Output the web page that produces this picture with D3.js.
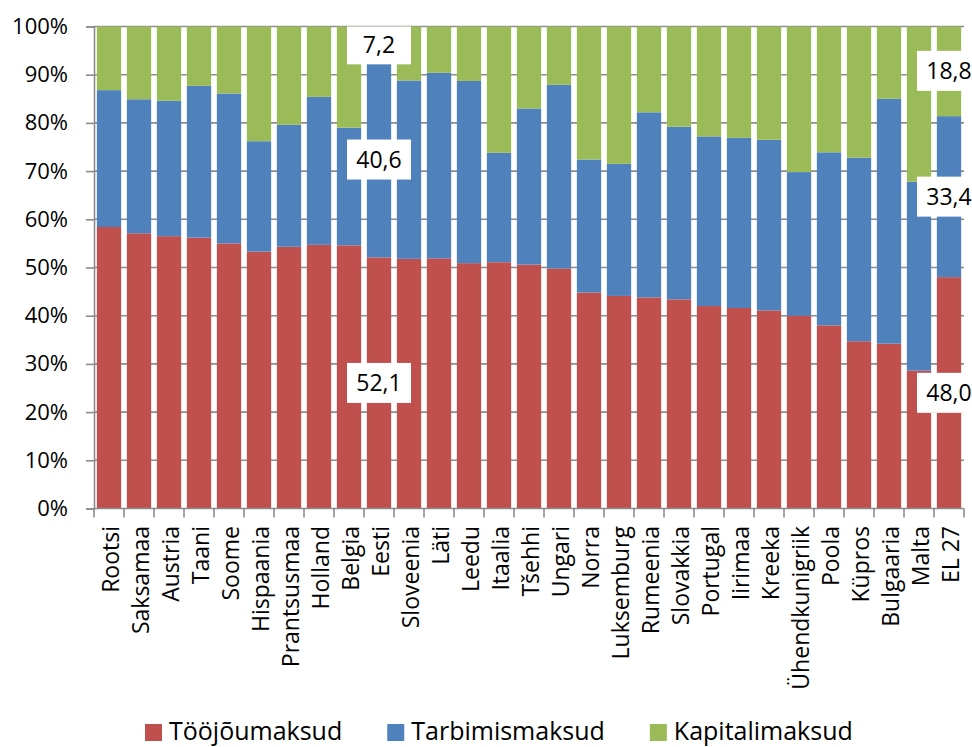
<!DOCTYPE html>
<html>
<head>
<meta charset="utf-8">
<script src="https://cdn.jsdelivr.net/npm/d3@7"></script>
<style>
  body { margin: 0; background: #fff; }
  svg { display: block; font-family: "Open Sans", sans-serif; }
</style>
</head>
<body>
<svg id="chart" width="972" height="747"></svg>
<script>
var countries = ['Rootsi', 'Saksamaa', 'Austria', 'Taani', 'Soome', 'Hispaania', 'Prantsusmaa',
  'Holland', 'Belgia', 'Eesti', 'Sloveenia', 'Läti', 'Leedu', 'Itaalia', 'Tšehhi', 'Ungari',
  'Norra', 'Luksemburg', 'Rumeenia', 'Slovakkia', 'Portugal', 'Iirimaa', 'Kreeka',
  'Ühendkunigriik', 'Poola', 'Küpros', 'Bulgaaria', 'Malta', 'EL 27'];

var labour = [58.4, 57.1, 56.5, 56.2, 55.0, 53.3, 54.3, 54.7, 54.6, 52.1, 51.8, 51.9, 50.9, 51.1,
  50.6, 49.8, 44.8, 44.1, 43.8, 43.4, 42.0, 41.6, 41.1, 40.0, 38.0, 34.7, 34.2, 28.6, 48.0];
var consumption = [28.4, 27.8, 28.1, 31.5, 31.1, 22.9, 25.3, 30.7, 24.4, 40.6, 37.0, 38.5, 37.8, 22.7,
  32.4, 38.1, 27.6, 27.4, 38.4, 35.8, 35.2, 35.3, 35.4, 29.8, 35.9, 38.1, 50.8, 39.2, 33.4];
var capital = [13.2, 15.1, 15.4, 12.3, 13.9, 23.8, 20.4, 14.6, 21.0, 7.2, 11.2, 9.6, 11.3, 26.2,
  17.0, 12.1, 27.6, 28.5, 17.8, 20.8, 22.8, 23.1, 23.5, 30.2, 26.1, 27.2, 15.0, 32.2, 18.8];

var seriesNames = ['Tööjõumaksud', 'Tarbimismaksud', 'Kapitalimaksud'];
var seriesKeys = ['labour', 'consumption', 'capital'];
var colors = ['#C0504D', '#4F81BD', '#9BBB59'];
var yTicks = [0, 10, 20, 30, 40, 50, 60, 70, 80, 90, 100];
// countries that get value labels
var labelled = ['Eesti', 'EL 27'];

var rows = countries.map(function (c, i) {
  return { country: c, labour: labour[i], consumption: consumption[i], capital: capital[i] };
});

// note: "top" is taken by window.top, so plot edges get their own names
var plotLeft = 94, plotRight = 964, plotTop = 26.5, plotBottom = 508.5;

var svg = d3.select('#chart');

var x = d3.scaleBand().domain(countries).range([plotLeft, plotRight]).paddingInner(0.19).paddingOuter(0.095);
var y = d3.scaleLinear().domain([0, 100]).range([plotBottom, plotTop]);

// gridlines
svg.append('g')
  .selectAll('line')
  .data(yTicks.slice(1))
  .enter()
  .append('line')
  .attr('x1', plotLeft).attr('x2', plotRight)
  .attr('y1', function (d) { return y(d); })
  .attr('y2', function (d) { return y(d); })
  .attr('stroke', '#8c8c8c')
  .attr('stroke-width', 1.6);

var stacked = d3.stack().keys(seriesKeys)(rows);

svg.append('g')
  .selectAll('g')
  .data(stacked)
  .enter()
  .append('g')
  .attr('fill', function (d, i) { return colors[i]; })
  .selectAll('rect')
  .data(function (d) { return d; })
  .enter()
  .append('rect')
  .attr('x', function (d) { return x(d.data.country); })
  .attr('width', x.bandwidth())
  .attr('y', function (d) { return y(Math.min(d[1], 100)); })
  .attr('height', function (d) { return y(d[0]) - y(Math.min(d[1], 100)); });

// y axis
var yAxis = svg.append('g')
  .attr('transform', 'translate(' + plotLeft + ',0)')
  .call(d3.axisLeft(y).tickValues(yTicks).tickFormat(function (d) { return d + '%'; })
    .tickSize(8).tickPadding(18));
yAxis.select('.domain').attr('stroke', '#8c8c8c').attr('stroke-width', 1.6);
yAxis.selectAll('.tick line').attr('stroke', '#8c8c8c').attr('stroke-width', 1.6);
yAxis.selectAll('.tick text')
  .attr('fill', '#000')
  .style('font-family', '"Open Sans", sans-serif')
  .style('font-size', '22px');

// x axis line and boundary ticks
var step = (plotRight - plotLeft) / countries.length;
svg.append('line')
  .attr('x1', plotLeft).attr('x2', plotRight)
  .attr('y1', plotBottom).attr('y2', plotBottom)
  .attr('stroke', '#8c8c8c').attr('stroke-width', 1.6);
svg.append('g')
  .selectAll('line')
  .data(d3.range(countries.length + 1))
  .enter()
  .append('line')
  .attr('x1', function (i) { return plotLeft + i * step; })
  .attr('x2', function (i) { return plotLeft + i * step; })
  .attr('y1', plotBottom).attr('y2', plotBottom + 9)
  .attr('stroke', '#8c8c8c').attr('stroke-width', 1.6);

// category labels
svg.append('g')
  .selectAll('text')
  .data(countries)
  .enter()
  .append('text')
  .attr('transform', function (d) {
    return 'translate(' + (x(d) + x.bandwidth() / 2) + ',526) rotate(-90)';
  })
  .attr('text-anchor', 'end')
  .attr('dy', '0.45em')
  .style('font-size', '23px')
  .text(function (d) { return d; });

// value labels (white boxes)
var labelData = [];
stacked.forEach(function (s) {
  s.forEach(function (d) {
    if (labelled.indexOf(d.data.country) >= 0) {
      labelData.push({ country: d.data.country, mid: (d[0] + d[1]) / 2, value: d[1] - d[0] });
    }
  });
});

var lab = svg.append('g')
  .selectAll('g')
  .data(labelData)
  .enter()
  .append('g');

lab.append('rect')
  .attr('x', function (d) { return x(d.country) + x.bandwidth() / 2 - 32; })
  .attr('y', function (d) { return Math.max(y(d.mid) - 20, plotTop); })
  .attr('width', 64)
  .attr('height', function (d) { return y(d.mid) + 20 - Math.max(y(d.mid) - 20, plotTop); })
  .attr('fill', '#fff');

lab.append('text')
  .attr('x', function (d) { return x(d.country) + x.bandwidth() / 2; })
  .attr('y', function (d) { return y(d.mid); })
  .attr('dy', '0.36em')
  .attr('text-anchor', 'middle')
  .style('font-size', '23px')
  .text(function (d) { return d3.format('.1f')(d.value).replace('.', ','); });

// legend
var legend = svg.append('g');
var lx = 145;
seriesNames.forEach(function (name, i) {
  legend.append('rect')
    .attr('x', lx).attr('y', 724)
    .attr('width', 17).attr('height', 17)
    .attr('fill', colors[i]);
  var t = legend.append('text')
    .attr('x', lx + 24).attr('y', 740)
    .style('font-size', '25px')
    .text(name);
  lx = lx + 24 + t.node().getComputedTextLength() + 45;
});
</script>
</body>
</html>
